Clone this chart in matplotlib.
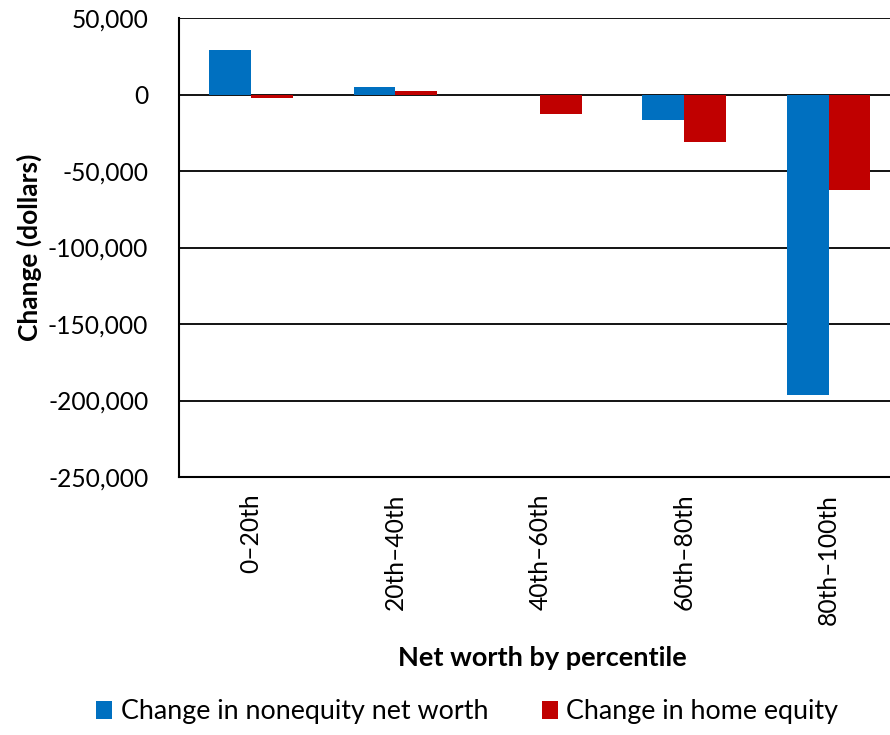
import matplotlib.pyplot as plt
import numpy as np
from matplotlib.ticker import FuncFormatter

plt.rcParams['font.family'] = ['Lato', 'DejaVu Sans']

categories = ["0\u201320th", "20th\u201340th", "40th\u201360th", "60th\u201380th", "80th\u2013100th"]
nonequity = [29400, 4600, -500, -16600, -196700]
home_equity = [-2000, 2000, -12700, -31000, -62300]

blue = "#0070C0"
red = "#C00000"

fig = plt.figure(figsize=(8.9, 7.35), dpi=100)
ax = fig.add_axes([0.201, 0.351, 0.811, 0.6245])

x = np.arange(len(categories))
w = 0.29
ax.bar(x - w / 2, nonequity, w, color=blue, label="Change in nonequity net worth", zorder=2)
ax.bar(x + w / 2, home_equity, w, color=red, label="Change in home equity", zorder=2)

ax.set_xlim(-0.5, len(categories) - 0.5)
ax.set_ylim(-250000, 50000)
ax.set_yticks(np.arange(-250000, 50001, 50000))
ax.yaxis.set_major_formatter(FuncFormatter(lambda v, p: f"{int(v):,}"))
for t in np.arange(-200000, 50001, 50000):
    ax.axhline(t, color="black", lw=1.3, zorder=1)

ax.set_xticks(x)
ax.set_xticklabels(categories, rotation=90)
ax.tick_params(axis="both", length=0, labelsize=17.7)
ax.tick_params(axis="x", pad=12)
ax.tick_params(axis="y", pad=22)

ax.spines["top"].set_visible(False)
ax.spines["right"].set_visible(False)
ax.spines["left"].set_linewidth(1.5)
ax.spines["bottom"].set_linewidth(1.5)

ax.set_ylabel("Change (dollars)", fontsize=19, fontweight="bold", labelpad=4)
fig.text(0.609, 1 - 658 / 735, "Net worth by percentile", fontsize=19.5, fontweight="bold",
         ha="center", va="center")

fig.legend(loc="center", bbox_to_anchor=(0.525, 1 - 712 / 735), ncol=2, frameon=False,
           fontsize=19.4, handlelength=0.6, handleheight=0.6, handletextpad=0.3, columnspacing=2.0)

fig.savefig("out.png", dpi=100)
